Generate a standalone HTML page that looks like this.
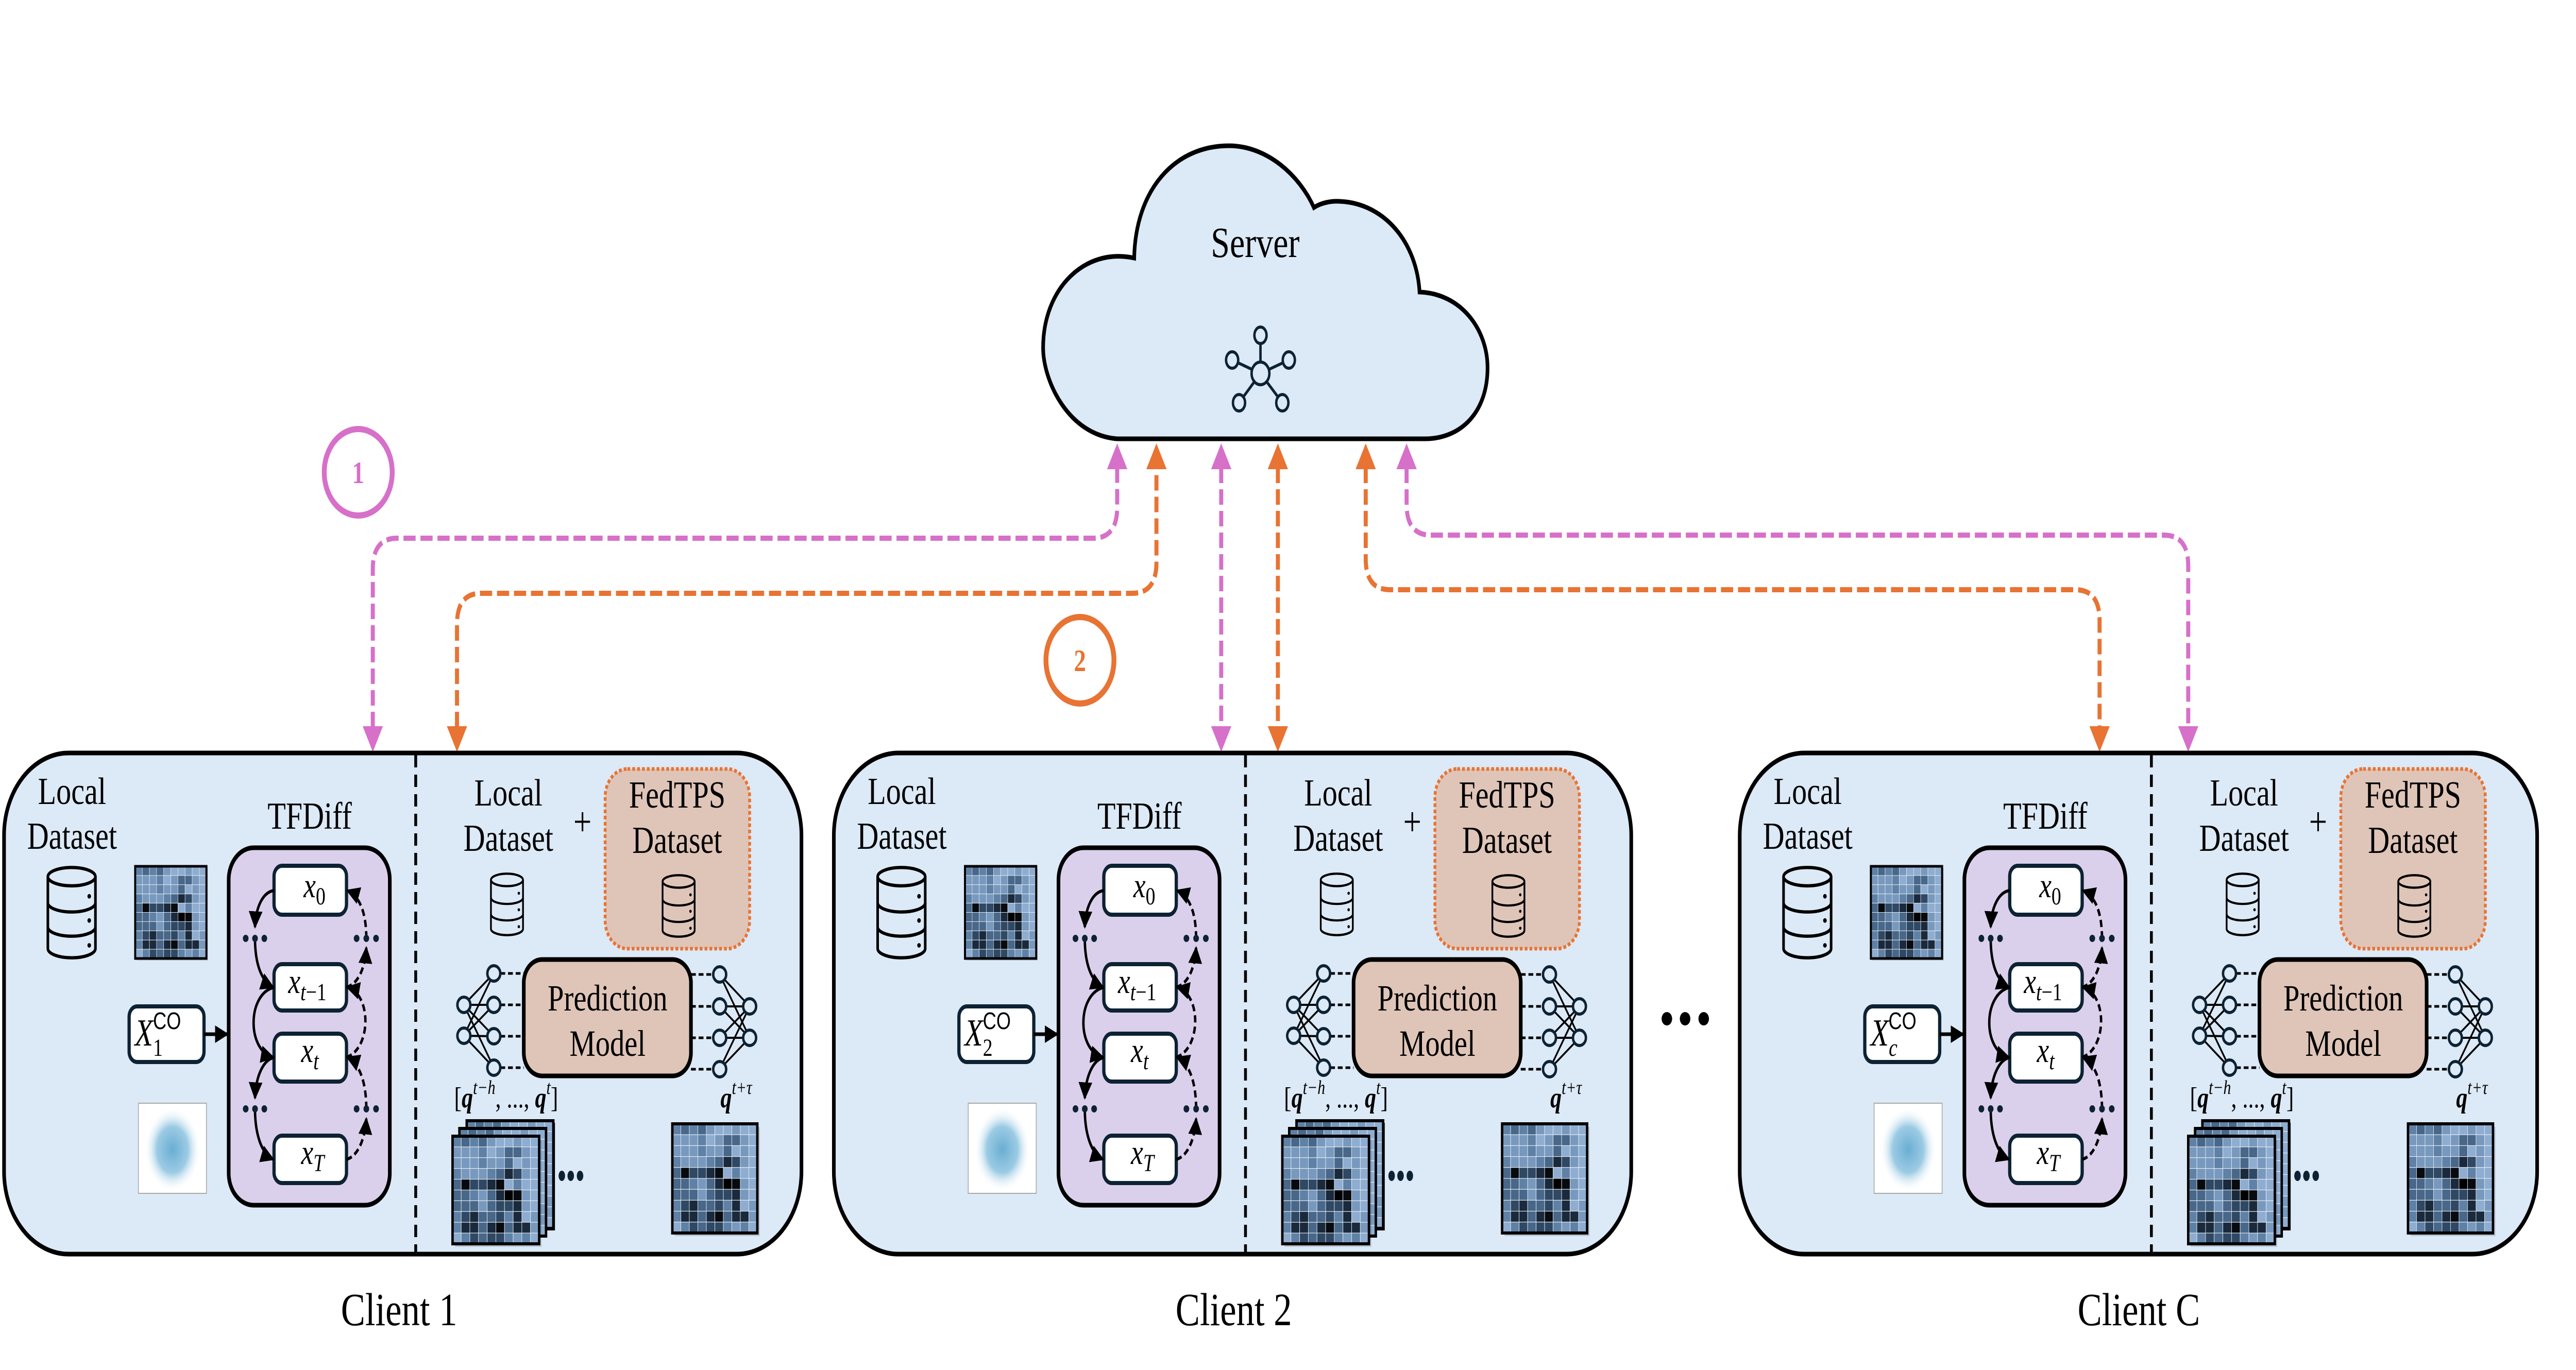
<!DOCTYPE html>
<html><head><meta charset="utf-8"><style>
html,body{margin:0;padding:0;background:#fff;width:100%;height:100%;overflow:hidden}
svg{display:block;width:100vw;height:100vh}
text{font-family:"Liberation Serif",serif;fill:#000}
.it{font-style:italic}
</style></head><body>
<svg viewBox="0 0 6364 2660" preserveAspectRatio="none" xmlns="http://www.w3.org/2000/svg">
<defs>
<marker id="ah" viewBox="0 0 10 10" refX="9" refY="5" markerWidth="34" markerHeight="34" markerUnits="userSpaceOnUse" orient="auto"><path d="M0,0 L10,5 L0,10 z" fill="#000"/></marker>
<radialGradient id="ng" cx="0.5" cy="0.5" r="0.5"><stop offset="0" stop-color="#6aaed3"/><stop offset="0.55" stop-color="#9ccbe4"/><stop offset="1" stop-color="#ffffff" stop-opacity="0"/></radialGradient>
<symbol id="hm" viewBox="0 0 10 10" preserveAspectRatio="none">
<g stroke="#e8f0f8" stroke-width="0.05">
<rect x="0" y="0" width="1" height="1" fill="#5f81a6"/><rect x="1" y="0" width="1" height="1" fill="#486789"/><rect x="2" y="0" width="1" height="1" fill="#5f81a6"/><rect x="3" y="0" width="1" height="1" fill="#486789"/><rect x="4" y="0" width="1" height="1" fill="#7899bd"/><rect x="5" y="0" width="1" height="1" fill="#8fadd0"/><rect x="6" y="0" width="1" height="1" fill="#8fadd0"/><rect x="7" y="0" width="1" height="1" fill="#7899bd"/><rect x="8" y="0" width="1" height="1" fill="#8fadd0"/><rect x="9" y="0" width="1" height="1" fill="#8fadd0"/>
<rect x="0" y="1" width="1" height="1" fill="#7899bd"/><rect x="1" y="1" width="1" height="1" fill="#7899bd"/><rect x="2" y="1" width="1" height="1" fill="#7899bd"/><rect x="3" y="1" width="1" height="1" fill="#5f81a6"/><rect x="4" y="1" width="1" height="1" fill="#8fadd0"/><rect x="5" y="1" width="1" height="1" fill="#7899bd"/><rect x="6" y="1" width="1" height="1" fill="#486789"/><rect x="7" y="1" width="1" height="1" fill="#486789"/><rect x="8" y="1" width="1" height="1" fill="#7899bd"/><rect x="9" y="1" width="1" height="1" fill="#8fadd0"/>
<rect x="0" y="2" width="1" height="1" fill="#7899bd"/><rect x="1" y="2" width="1" height="1" fill="#7899bd"/><rect x="2" y="2" width="1" height="1" fill="#7899bd"/><rect x="3" y="2" width="1" height="1" fill="#5f81a6"/><rect x="4" y="2" width="1" height="1" fill="#7899bd"/><rect x="5" y="2" width="1" height="1" fill="#7899bd"/><rect x="6" y="2" width="1" height="1" fill="#486789"/><rect x="7" y="2" width="1" height="1" fill="#8fadd0"/><rect x="8" y="2" width="1" height="1" fill="#7899bd"/><rect x="9" y="2" width="1" height="1" fill="#8fadd0"/>
<rect x="0" y="3" width="1" height="1" fill="#5f81a6"/><rect x="1" y="3" width="1" height="1" fill="#7899bd"/><rect x="2" y="3" width="1" height="1" fill="#7899bd"/><rect x="3" y="3" width="1" height="1" fill="#7899bd"/><rect x="4" y="3" width="1" height="1" fill="#5f81a6"/><rect x="5" y="3" width="1" height="1" fill="#486789"/><rect x="6" y="3" width="1" height="1" fill="#1a2a3c"/><rect x="7" y="3" width="1" height="1" fill="#2f4864"/><rect x="8" y="3" width="1" height="1" fill="#7899bd"/><rect x="9" y="3" width="1" height="1" fill="#8fadd0"/>
<rect x="0" y="4" width="1" height="1" fill="#486789"/><rect x="1" y="4" width="1" height="1" fill="#070b10"/><rect x="2" y="4" width="1" height="1" fill="#2f4864"/><rect x="3" y="4" width="1" height="1" fill="#2f4864"/><rect x="4" y="4" width="1" height="1" fill="#1a2a3c"/><rect x="5" y="4" width="1" height="1" fill="#070b10"/><rect x="6" y="4" width="1" height="1" fill="#8fadd0"/><rect x="7" y="4" width="1" height="1" fill="#5f81a6"/><rect x="8" y="4" width="1" height="1" fill="#8fadd0"/><rect x="9" y="4" width="1" height="1" fill="#8fadd0"/>
<rect x="0" y="5" width="1" height="1" fill="#486789"/><rect x="1" y="5" width="1" height="1" fill="#486789"/><rect x="2" y="5" width="1" height="1" fill="#5f81a6"/><rect x="3" y="5" width="1" height="1" fill="#7899bd"/><rect x="4" y="5" width="1" height="1" fill="#486789"/><rect x="5" y="5" width="1" height="1" fill="#1a2a3c"/><rect x="6" y="5" width="1" height="1" fill="#000"/><rect x="7" y="5" width="1" height="1" fill="#070b10"/><rect x="8" y="5" width="1" height="1" fill="#7899bd"/><rect x="9" y="5" width="1" height="1" fill="#8fadd0"/>
<rect x="0" y="6" width="1" height="1" fill="#486789"/><rect x="1" y="6" width="1" height="1" fill="#486789"/><rect x="2" y="6" width="1" height="1" fill="#486789"/><rect x="3" y="6" width="1" height="1" fill="#7899bd"/><rect x="4" y="6" width="1" height="1" fill="#486789"/><rect x="5" y="6" width="1" height="1" fill="#2f4864"/><rect x="6" y="6" width="1" height="1" fill="#2f4864"/><rect x="7" y="6" width="1" height="1" fill="#1a2a3c"/><rect x="8" y="6" width="1" height="1" fill="#7899bd"/><rect x="9" y="6" width="1" height="1" fill="#8fadd0"/>
<rect x="0" y="7" width="1" height="1" fill="#5f81a6"/><rect x="1" y="7" width="1" height="1" fill="#2f4864"/><rect x="2" y="7" width="1" height="1" fill="#1a2a3c"/><rect x="3" y="7" width="1" height="1" fill="#486789"/><rect x="4" y="7" width="1" height="1" fill="#486789"/><rect x="5" y="7" width="1" height="1" fill="#2f4864"/><rect x="6" y="7" width="1" height="1" fill="#5f81a6"/><rect x="7" y="7" width="1" height="1" fill="#1a2a3c"/><rect x="8" y="7" width="1" height="1" fill="#8fadd0"/><rect x="9" y="7" width="1" height="1" fill="#7899bd"/>
<rect x="0" y="8" width="1" height="1" fill="#5f81a6"/><rect x="1" y="8" width="1" height="1" fill="#1a2a3c"/><rect x="2" y="8" width="1" height="1" fill="#1a2a3c"/><rect x="3" y="8" width="1" height="1" fill="#486789"/><rect x="4" y="8" width="1" height="1" fill="#1a2a3c"/><rect x="5" y="8" width="1" height="1" fill="#070b10"/><rect x="6" y="8" width="1" height="1" fill="#486789"/><rect x="7" y="8" width="1" height="1" fill="#1a2a3c"/><rect x="8" y="8" width="1" height="1" fill="#1a2a3c"/><rect x="9" y="8" width="1" height="1" fill="#7899bd"/>
<rect x="0" y="9" width="1" height="1" fill="#8fadd0"/><rect x="1" y="9" width="1" height="1" fill="#5f81a6"/><rect x="2" y="9" width="1" height="1" fill="#2f4864"/><rect x="3" y="9" width="1" height="1" fill="#486789"/><rect x="4" y="9" width="1" height="1" fill="#2f4864"/><rect x="5" y="9" width="1" height="1" fill="#2f4864"/><rect x="6" y="9" width="1" height="1" fill="#5f81a6"/><rect x="7" y="9" width="1" height="1" fill="#7899bd"/><rect x="8" y="9" width="1" height="1" fill="#5f81a6"/><rect x="9" y="9" width="1" height="1" fill="#8fadd0"/>
</g>
</symbol>
<symbol id="cyl" viewBox="-4 -4 108 148" preserveAspectRatio="none">
<g fill="none" stroke="#000" stroke-width="5">
<ellipse cx="50" cy="15" rx="46" ry="14"/>
<path d="M4,15 V125 A46,14 0 0 0 96,125 V15"/>
<path d="M4,55 A46,14 0 0 0 96,55"/>
<path d="M4,92 A46,14 0 0 0 96,92"/>
</g>
<circle cx="84" cy="45" r="3.5"/><circle cx="84" cy="82" r="3.5"/><circle cx="84" cy="120" r="3.5"/>
</symbol>
<g id="body">
<rect x="10" y="1462" width="1970" height="973" rx="160" ry="160" fill="#dce9f6" stroke="#000" stroke-width="9"/>
<line x1="1027" y1="1466" x2="1027" y2="2431" stroke="#000" stroke-width="7" stroke-dasharray="24 14"/>
<text x="178" y="1561" font-size="74" text-anchor="middle">Local</text>
<text x="178" y="1648" font-size="74" text-anchor="middle">Dataset</text>
<use href="#cyl" x="108" y="1678" width="138" height="188"/>
<rect x="338" y="1686" width="176" height="179" fill="#000" opacity="0.12"/>
<use href="#hm" x="334" y="1682" width="176" height="179"/>
<rect x="334" y="1682" width="176" height="179" fill="none" stroke="#000" stroke-width="5"/>
<rect x="319" y="1954" width="185" height="108" rx="20" fill="#fff" stroke="#0d2233" stroke-width="8"/>
<line x1="504" y1="2008" x2="562" y2="2008" stroke="#000" stroke-width="7" marker-end="url(#ah)"/>
<rect x="342" y="2142" width="168" height="175" fill="#fff" stroke="#aaa" stroke-width="2"/>
<ellipse cx="426" cy="2232" rx="70" ry="82" fill="url(#ng)"/>
<text x="765" y="1609" font-size="74" text-anchor="middle">TFDiff</text>
<rect x="565" y="1646" width="398" height="694" rx="62" fill="#dbd0ec" stroke="#000" stroke-width="9"/>
<g fill="#fff" stroke="#0d2233" stroke-width="8">
<rect x="677" y="1681" width="179" height="95" rx="20"/>
<rect x="677" y="1872" width="179" height="90" rx="20"/>
<rect x="677" y="2007" width="179" height="93" rx="20"/>
<rect x="677" y="2205" width="179" height="92" rx="20"/>
</g>
<text x="750" y="1742" font-size="68" class="it">x<tspan font-size="48" font-style="normal" dy="14">0</tspan></text>
<text x="712" y="1928" font-size="68" class="it">x<tspan font-size="48" dy="14">t</tspan><tspan font-size="48" font-style="normal">−1</tspan></text>
<text x="744" y="2062" font-size="68" class="it">x<tspan font-size="48" dy="14">t</tspan></text>
<text x="744" y="2260" font-size="68" class="it">x<tspan font-size="48" dy="14">T</tspan></text>
<g fill="none" stroke="#000" stroke-width="6">
<path d="M677,1729 C650,1732 632,1760 630,1800" marker-end="url(#ah)"/>
<path d="M630,1822 C630,1870 645,1905 675,1917" marker-end="url(#ah)"/>
<path d="M677,1917 C610,1930 610,2040 675,2053" marker-end="url(#ah)"/>
<path d="M677,2053 C650,2058 632,2090 630,2132" marker-end="url(#ah)"/>
<path d="M630,2153 C630,2200 645,2240 675,2251" marker-end="url(#ah)"/>
</g>
<g fill="none" stroke="#000" stroke-width="6" stroke-dasharray="14 8">
<path d="M856,2251 C885,2245 902,2210 905,2172" marker-end="url(#ah)"/>
<path d="M905,2153 C905,2105 890,2065 858,2053" marker-end="url(#ah)"/>
<path d="M856,2053 C918,2035 918,1930 858,1917" marker-end="url(#ah)"/>
<path d="M856,1917 C885,1910 902,1880 905,1840" marker-end="url(#ah)"/>
<path d="M905,1822 C905,1775 890,1740 858,1729" marker-end="url(#ah)"/>
</g>
<g fill="#0d2233">
<ellipse cx="607" cy="1822" rx="7" ry="7"/><ellipse cx="630" cy="1822" rx="7" ry="7"/><ellipse cx="653" cy="1822" rx="7" ry="7"/>
<ellipse cx="881" cy="1822" rx="7" ry="7"/><ellipse cx="905" cy="1822" rx="7" ry="7"/><ellipse cx="929" cy="1822" rx="7" ry="7"/>
<ellipse cx="607" cy="2153" rx="7" ry="7"/><ellipse cx="630" cy="2153" rx="7" ry="7"/><ellipse cx="653" cy="2153" rx="7" ry="7"/>
<ellipse cx="881" cy="2153" rx="7" ry="7"/><ellipse cx="905" cy="2153" rx="7" ry="7"/><ellipse cx="929" cy="2153" rx="7" ry="7"/>
</g>
<text x="1256" y="1564" font-size="74" text-anchor="middle">Local</text>
<text x="1256" y="1652" font-size="74" text-anchor="middle">Dataset</text>
<text x="1439" y="1622" font-size="80" text-anchor="middle" fill="#333">+</text>
<rect x="1495" y="1493" width="357" height="349" rx="55" fill="#dfc5b8" stroke="#e87333" stroke-width="7" stroke-dasharray="7 5"/>
<text x="1673" y="1568" font-size="74" text-anchor="middle">FedTPS</text>
<text x="1673" y="1656" font-size="74" text-anchor="middle">Dataset</text>
<use href="#cyl" x="1206" y="1692" width="93" height="128"/>
<use href="#cyl" x="1630" y="1695" width="93" height="128"/>
<g stroke="#000" stroke-width="4">
<line x1="1146" y1="1951" x2="1220" y2="1890"/><line x1="1146" y1="1951" x2="1220" y2="1951"/><line x1="1146" y1="1951" x2="1220" y2="2012"/><line x1="1146" y1="1951" x2="1220" y2="2073"/>
<line x1="1146" y1="2011" x2="1220" y2="1890"/><line x1="1146" y1="2011" x2="1220" y2="1951"/><line x1="1146" y1="2011" x2="1220" y2="2012"/><line x1="1146" y1="2011" x2="1220" y2="2073"/>
<line x1="1852" y1="1954" x2="1778" y2="1892"/><line x1="1852" y1="1954" x2="1778" y2="1954"/><line x1="1852" y1="1954" x2="1778" y2="2015"/><line x1="1852" y1="1954" x2="1778" y2="2076"/>
<line x1="1852" y1="2015" x2="1778" y2="1892"/><line x1="1852" y1="2015" x2="1778" y2="1954"/><line x1="1852" y1="2015" x2="1778" y2="2015"/><line x1="1852" y1="2015" x2="1778" y2="2076"/>
</g>
<g stroke="#000" stroke-width="5" stroke-dasharray="12 7">
<line x1="1236" y1="1890" x2="1294" y2="1890"/><line x1="1236" y1="1951" x2="1294" y2="1951"/><line x1="1236" y1="2012" x2="1294" y2="2012"/><line x1="1236" y1="2073" x2="1294" y2="2073"/>
<line x1="1707" y1="1892" x2="1762" y2="1892"/><line x1="1707" y1="1954" x2="1762" y2="1954"/><line x1="1707" y1="2015" x2="1762" y2="2015"/><line x1="1707" y1="2076" x2="1762" y2="2076"/>
</g>
<g fill="#dce9f6" stroke="#0d2233" stroke-width="6">
<ellipse cx="1146" cy="1951" rx="16" ry="15"/><ellipse cx="1146" cy="2011" rx="16" ry="15"/>
<ellipse cx="1220" cy="1890" rx="16" ry="15"/><ellipse cx="1220" cy="1951" rx="16" ry="15"/><ellipse cx="1220" cy="2012" rx="16" ry="15"/><ellipse cx="1220" cy="2073" rx="16" ry="15"/>
<ellipse cx="1778" cy="1892" rx="16" ry="15"/><ellipse cx="1778" cy="1954" rx="16" ry="15"/><ellipse cx="1778" cy="2015" rx="16" ry="15"/><ellipse cx="1778" cy="2076" rx="16" ry="15"/>
<ellipse cx="1852" cy="1954" rx="16" ry="15"/><ellipse cx="1852" cy="2015" rx="16" ry="15"/>
</g>
<rect x="1294" y="1863" width="413" height="226" rx="45" fill="#dfc5b8" stroke="#000" stroke-width="9"/>
<text x="1501" y="1962" font-size="72" text-anchor="middle">Prediction</text>
<text x="1501" y="2050" font-size="72" text-anchor="middle">Model</text>
<text x="1122" y="2150" font-size="56">[<tspan font-weight="bold" class="it">q</tspan><tspan font-size="38" class="it" dy="-26">t−h</tspan><tspan dy="26">, ..., </tspan><tspan font-weight="bold" class="it">q</tspan><tspan font-size="38" class="it" dy="-26">t</tspan><tspan dy="26">]</tspan></text>
<text x="1780" y="2150" font-size="56"><tspan font-weight="bold" class="it">q</tspan><tspan font-size="38" class="it" dy="-26">t+τ</tspan></text>
<rect x="1157" y="2180" width="214" height="209" fill="#000"/>
<use href="#hm" x="1153" y="2176" width="214" height="209"/>
<rect x="1153" y="2176" width="214" height="209" fill="none" stroke="#000" stroke-width="6"/>
<use href="#hm" x="1135" y="2191" width="214" height="209"/>
<rect x="1135" y="2191" width="214" height="209" fill="none" stroke="#000" stroke-width="6"/>
<rect x="1124" y="2212" width="214" height="209" fill="#000" opacity="0.15"/>
<use href="#hm" x="1118" y="2206" width="214" height="209"/>
<rect x="1118" y="2206" width="214" height="209" fill="none" stroke="#000" stroke-width="6"/>
<g fill="#0d2233"><ellipse cx="1388" cy="2283" rx="8" ry="10"/><ellipse cx="1410" cy="2283" rx="8" ry="10"/><ellipse cx="1433" cy="2283" rx="8" ry="10"/></g>
<rect x="1667" y="2188" width="210" height="212" fill="#000" opacity="0.15"/>
<use href="#hm" x="1661" y="2182" width="210" height="212"/>
<rect x="1661" y="2182" width="210" height="212" fill="none" stroke="#000" stroke-width="6"/>
</g>
</defs>

<path d="M2760,852 C2640,845 2577,740 2577,675 C2577,560 2680,480 2802,501 C2805,370 2900,283 3036,283 C3130,283 3210,340 3246,403 C3265,393 3290,390 3311,391 C3420,395 3500,470 3507,567 C3610,570 3675,640 3675,714 C3675,800 3610,852 3520,852 Z" fill="#dce9f6" stroke="#000" stroke-width="9"/>
<text x="3101" y="499" font-size="84" text-anchor="middle" fill="#0d2233">Server</text>
<g stroke="#0d2233" stroke-width="6" fill="#dce9f6">
<line x1="3114" y1="725" x2="3114" y2="651"/><line x1="3114" y1="725" x2="3044" y2="699"/><line x1="3114" y1="725" x2="3184" y2="699"/><line x1="3114" y1="725" x2="3061" y2="782"/><line x1="3114" y1="725" x2="3168" y2="782"/>
<ellipse cx="3114" cy="725" rx="22" ry="22"/>
<ellipse cx="3114" cy="651" rx="15" ry="16"/><ellipse cx="3044" cy="699" rx="15" ry="16"/><ellipse cx="3184" cy="699" rx="15" ry="16"/><ellipse cx="3061" cy="782" rx="15" ry="16"/><ellipse cx="3168" cy="782" rx="15" ry="16"/>
</g>

<g fill="none" stroke-width="10" stroke-dasharray="30 12">
<path d="M921,1412 V1105 Q921,1045 981,1045 H2700 Q2760,1045 2760,985 V908" stroke="#d670c9"/>
<path d="M1129,1412 V1212 Q1129,1152 1189,1152 H2797 Q2857,1152 2857,1092 V908" stroke="#e87333"/>
<path d="M3017,908 V1412" stroke="#d670c9"/>
<path d="M3157,908 V1412" stroke="#e87333"/>
<path d="M3374,908 V1085 Q3374,1145 3434,1145 H5127 Q5187,1145 5187,1205 V1412" stroke="#e87333"/>
<path d="M3475,908 V979 Q3475,1039 3535,1039 H5346 Q5406,1039 5406,1099 V1412" stroke="#d670c9"/>
</g>
<g fill="#d670c9">
<polygon points="2735,911 2785,911 2760,861"/><polygon points="896,1410 946,1410 921,1460"/>
<polygon points="2992,911 3042,911 3017,861"/><polygon points="2992,1410 3042,1410 3017,1460"/>
<polygon points="3450,911 3500,911 3475,861"/><polygon points="5381,1410 5431,1410 5406,1460"/>
</g>
<g fill="#e87333">
<polygon points="2832,911 2882,911 2857,861"/><polygon points="1104,1410 1154,1410 1129,1460"/>
<polygon points="3132,911 3182,911 3157,861"/><polygon points="3132,1410 3182,1410 3157,1460"/>
<polygon points="3349,911 3399,911 3374,861"/><polygon points="5162,1410 5212,1410 5187,1460"/>
</g>
<circle cx="885" cy="917" r="84" fill="none" stroke="#d670c9" stroke-width="12"/>
<text x="885" y="938" font-size="60" font-weight="bold" text-anchor="middle" style="fill:#d670c9">1</text>
<circle cx="2668" cy="1282" r="84" fill="none" stroke="#e87333" stroke-width="12"/>
<text x="2668" y="1303" font-size="60" font-weight="bold" text-anchor="middle" style="fill:#e87333">2</text>

<use href="#body"/>
<use href="#body" x="2050"/>
<use href="#body" x="4288"/>
<g font-size="68">
<text x="333" y="2030" class="it" font-size="74">X<tspan font-size="48" font-style="normal" dy="20">1</tspan><tspan font-size="46" font-family="Liberation Sans" font-style="normal" dx="-24" dy="-52">CO</tspan></text>
<text x="2383" y="2030" class="it" font-size="74">X<tspan font-size="48" font-style="normal" dy="20">2</tspan><tspan font-size="46" font-family="Liberation Sans" font-style="normal" dx="-24" dy="-52">CO</tspan></text>
<text x="4621" y="2030" class="it" font-size="74">X<tspan font-size="48" dy="20">c</tspan><tspan font-size="46" font-family="Liberation Sans" font-style="normal" dx="-22" dy="-52">CO</tspan></text>
</g>
<g fill="#000"><circle cx="4118" cy="1978" r="13"/><circle cx="4163" cy="1978" r="13"/><circle cx="4209" cy="1978" r="13"/></g>
<text x="986" y="2573" font-size="90" text-anchor="middle">Client 1</text>
<text x="3048" y="2573" font-size="90" text-anchor="middle">Client 2</text>
<text x="5284" y="2573" font-size="90" text-anchor="middle">Client C</text>
</svg>
</body></html>
